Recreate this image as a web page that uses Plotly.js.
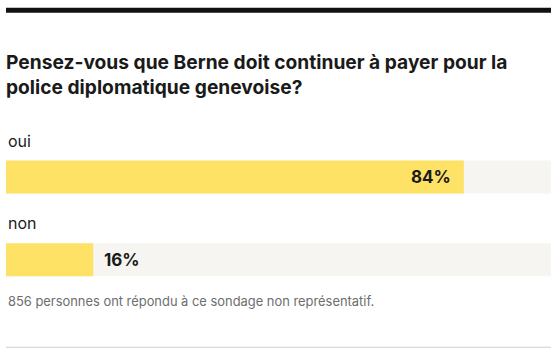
<!DOCTYPE html>
<html>
<head>
<meta charset="utf-8">
<script src="https://cdn.plot.ly/plotly-3.0.1.min.js"></script>
<style>
  html, body { margin: 0; padding: 0; background: #ffffff; }
  #chart { width: 557px; height: 356px; }
</style>
</head>
<body>
<div id="chart"></div>
<script>
// Data
const titleText = "Pensez-vous que Berne doit continuer à payer pour la<br>police diplomatique genevoise?";
const categories = ["oui", "non"];
const values = [84, 16];
const maxValue = 100;
const valueLabels = ["84%", "16%"];
const footnote = "856 personnes ont répondu à ce sondage non représentatif.";

const yellow = "#FEE265";
const track = "#F6F5F1";
const ink = "#1a1a1a";
const fam = "Inter, Roboto, 'Noto Sans', sans-serif";

const traces = [
  {
    type: "bar", orientation: "h",
    y: categories, x: categories.map(() => maxValue),
    marker: { color: track }, width: 0.4,
    hoverinfo: "skip", showlegend: false
  },
  {
    type: "bar", orientation: "h",
    y: categories, x: values,
    marker: { color: yellow }, width: 0.4,
    hoverinfo: "skip", showlegend: false
  }
];

const annotations = [];
categories.forEach((c, i) => {
  annotations.push({
    xref: "paper", yref: "y", x: 0, y: c,
    xanchor: "left", yanchor: "middle", yshift: 36.5,
    text: c, showarrow: false,
    font: { family: fam, size: 16, color: ink }
  });
  const inside = values[i] > 50;
  annotations.push({
    xref: "x", yref: "y", x: values[i], y: c,
    xanchor: inside ? "right" : "left", yanchor: "middle",
    xshift: inside ? -11 : 9,
    text: "<b>" + valueLabels[i] + "</b>", showarrow: false,
    font: { family: fam, size: 17, color: ink }
  });
});
annotations.push({
  xref: "paper", yref: "paper", x: 0, y: 0,
  xanchor: "left", yanchor: "middle", yshift: -0.5,
  text: footnote, showarrow: false,
  font: { family: fam, size: 12.9, color: "#6e6e6e" }
});

const layout = {
  width: 557, height: 356,
  margin: { l: 6, r: 6, t: 53.25, b: 55.25, pad: 0 },
  paper_bgcolor: "#ffffff", plot_bgcolor: "#ffffff",
  barmode: "overlay",
  title: {
    text: "<b>" + titleText + "</b>",
    x: 0, xref: "paper", xanchor: "left",
    y: 1 - 69 / 356, yref: "container", yanchor: "top",
    pad: { t: 0, b: 0, l: 0, r: 0 },
    font: { family: fam, size: 19.2, color: ink }
  },
  xaxis: { range: [0, maxValue], visible: false, fixedrange: true },
  yaxis: { range: [1.5, -1.5], visible: false, fixedrange: true, type: "category" },
  shapes: [
    { type: "line", xref: "paper", x0: 0, x1: 1,
      yref: "paper", ysizemode: "pixel", yanchor: 1, y0: 42.75, y1: 42.75,
      line: { color: "#111111", width: 5 } },
    { type: "line", xref: "paper", x0: 0, x1: 1,
      yref: "paper", ysizemode: "pixel", yanchor: 0, y0: -46.25, y1: -46.25,
      line: { color: "#cfcfcf", width: 1 } }
  ],
  annotations: annotations,
  showlegend: false
};

Plotly.newPlot("chart", traces, layout, { displayModeBar: false, staticPlot: true });
</script>
</body>
</html>
